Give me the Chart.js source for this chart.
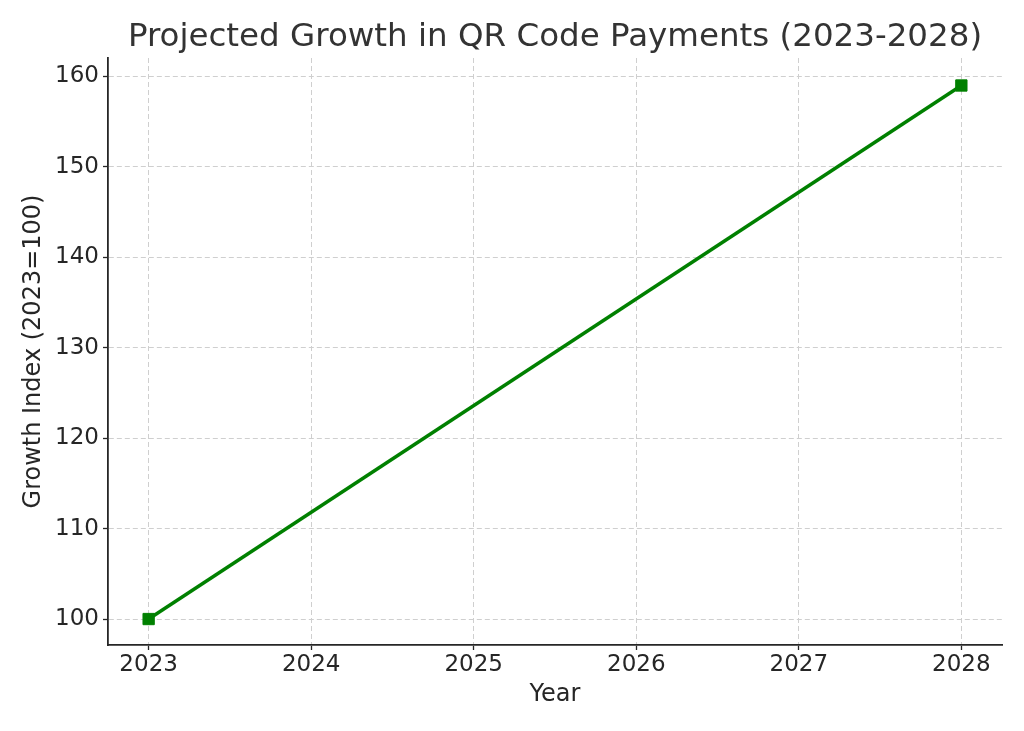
<!DOCTYPE html>
<html>
<head>
<meta charset="utf-8">
<script src="https://cdn.jsdelivr.net/npm/chart.js@4.4.0/dist/chart.umd.min.js"></script>
<style>
  html, body { margin: 0; padding: 0; background: #fff; }
</style>
</head>
<body>
<canvas id="growthChart" width="1024" height="731"></canvas>
<script>
const years = [2023, 2028];
const growthIndex = [100, 159];
const xTicks = [2023, 2024, 2025, 2026, 2027, 2028];
const yTicks = [100, 110, 120, 130, 140, 150, 160];
const chartTitle = 'Projected Growth in QR Code Payments (2023-2028)';

Chart.defaults.font.family = '"DejaVu Sans", sans-serif';

// title centred over the plot area, like matplotlib does it
const axesTitle = {
  id: 'axesTitle',
  afterDraw(chart) {
    const ctx = chart.ctx;
    const area = chart.chartArea;
    ctx.save();
    ctx.font = '32.5px "DejaVu Sans"';
    ctx.fillStyle = '#333333';
    ctx.textAlign = 'center';
    ctx.textBaseline = 'alphabetic';
    ctx.fillText(chartTitle, (area.left + area.right) / 2, 46);
    ctx.restore();
  }
};

const gridOpts = {
  color: '#cfcfcf',
  lineWidth: 1,
  tickColor: '#262626',
  tickLength: 5,
  tickWidth: 1.3
};

new Chart(document.getElementById('growthChart'), {
  type: 'line',
  data: {
    datasets: [{
      data: years.map((y, i) => ({ x: y, y: growthIndex[i] })),
      borderColor: '#008000',
      backgroundColor: '#008000',
      borderWidth: 3.5,
      pointStyle: 'rect',
      pointRadius: 8,
      pointBorderWidth: 1,
      tension: 0
    }]
  },
  options: {
    responsive: false,
    animation: false,
    layout: { padding: { left: 0, right: 22, top: 58, bottom: 0 } },
    plugins: {
      legend: { display: false },
      tooltip: { enabled: false }
    },
    scales: {
      x: {
        type: 'linear',
        min: 2022.75,
        max: 2028.25,
        afterBuildTicks: s => { s.ticks = xTicks.map(v => ({ value: v })); },
        afterFit: s => { s.height = 86; },
        ticks: {
          font: { size: 23 },
          color: '#262626',
          padding: 1,
          maxRotation: 0,
          callback: v => String(v)
        },
        grid: gridOpts,
        border: { display: true, color: '#262626', width: 1.8, dash: [5, 3] },
        title: {
          display: true,
          text: 'Year',
          font: { size: 24 },
          color: '#262626',
          padding: { top: 22, bottom: 22 }
        }
      },
      y: {
        type: 'linear',
        min: 97.13,
        max: 162.04,
        afterBuildTicks: s => { s.ticks = yTicks.map(v => ({ value: v })); },
        afterFit: s => { s.width = 108; },
        ticks: {
          font: { size: 23 },
          color: '#262626',
          padding: 4,
          callback: v => String(v)
        },
        grid: gridOpts,
        border: { display: true, color: '#262626', width: 1.8, dash: [5, 3] },
        title: {
          display: true,
          text: 'Growth Index (2023=100)',
          font: { size: 24 },
          color: '#262626',
          padding: { top: 19, bottom: 19 }
        }
      }
    }
  },
  plugins: [axesTitle]
});
</script>
</body>
</html>
